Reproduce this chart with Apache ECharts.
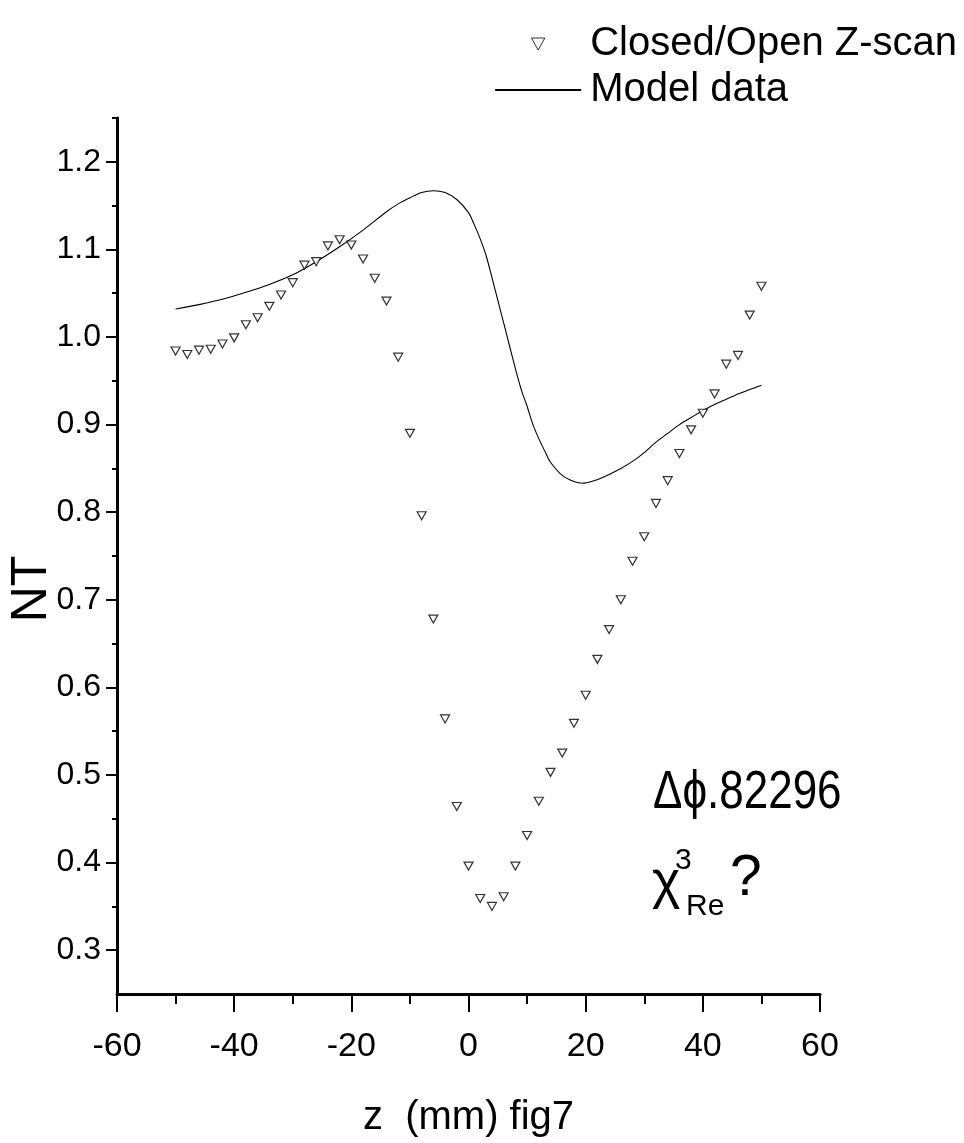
<!DOCTYPE html>
<html><head><meta charset="utf-8">
<script src="https://cdn.jsdelivr.net/npm/echarts@6/dist/echarts.min.js"></script>
<style>html,body{margin:0;padding:0;background:#fff}#c{width:964px;height:1143px}</style>
</head><body><div id="c"></div>
<script>
// Measured Z-scan points (z in mm, normalized transmittance)
const scanZ = [-50,-48,-46,-44,-42,-40,-38,-36,-34,-32,-30,-28,-26,-24,-22,-20,-18,-16,-14,-12,-10,-8,-6,-4,-2,0,2,4,6,8,10,12,14,16,18,20,22,24,26,28,30,32,34,36,38,40,42,44,46,48,50];
const scanNT = [0.984,0.980,0.985,0.986,0.992,0.999,1.014,1.022,1.035,1.048,1.062,1.082,1.086,1.104,1.111,1.105,1.089,1.067,1.041,0.977,0.890,0.796,0.678,0.564,0.464,0.396,0.359,0.350,0.361,0.396,0.431,0.470,0.503,0.525,0.559,0.591,0.632,0.666,0.700,0.744,0.772,0.810,0.836,0.867,0.894,0.913,0.935,0.969,0.979,1.025,1.058];
// Model curve
const modelZ = [-50,-46,-42,-38,-34,-30,-26,-22,-18,-14,-12,-10,-8,-6,-4,-2,0,1,2,3,4,5,6,7,8,9,10,11,12,13,14,16,18,19.5,21,23,26,28,30,32,34,36,38,40,42,44,46,48,50];
const modelNT = [1.032,1.037,1.043,1.051,1.060,1.071,1.086,1.103,1.122,1.143,1.152,1.159,1.165,1.167,1.165,1.157,1.142,1.128,1.112,1.093,1.068,1.042,1.016,0.990,0.964,0.940,0.921,0.900,0.884,0.870,0.857,0.842,0.835,0.833,0.835,0.840,0.850,0.858,0.868,0.880,0.890,0.900,0.908,0.916,0.923,0.929,0.935,0.940,0.945];
const yMajor = [0.3,0.4,0.5,0.6,0.7,0.8,0.9,1.0,1.1,1.2];
const yMinor = [0.35,0.45,0.55,0.65,0.75,0.85,0.95,1.05,1.15,1.25];
const seriesNames = ['Closed/Open Z-scan','Model data'];

const FONT = '"Liberation Sans", Arial, sans-serif';
const tri = 'path://M0,0 L10,0 L5,9 Z';

const chart = echarts.init(document.getElementById('c'), null, {renderer:'canvas'});
chart.setOption({
  backgroundColor:'#fff',
  animation:false,
  grid:{left:117,right:144,top:118,bottom:141,containLabel:false},
  legend:{
    orient:'vertical', right:2, top:19, itemGap:6, itemWidth:86, itemHeight:12,
    textStyle:{fontFamily:FONT,fontSize:40,color:'#000',padding:[0,0,0,4]},
    data:[{name:seriesNames[0],icon:tri,itemStyle:{color:'#fff',borderColor:'#000',borderWidth:1}},
          {name:seriesNames[1]}]
  },
  xAxis:{
    type:'value', min:-60, max:60, interval:20,
    name:'z  (mm) fig7', nameLocation:'middle', nameGap:104,
    nameTextStyle:{fontFamily:FONT,fontSize:40,color:'#000'},
    axisLine:{onZero:false,lineStyle:{color:'#000',width:3}},
    axisTick:{inside:false,length:18,lineStyle:{color:'#000',width:2}},
    minorTick:{show:true,splitNumber:2,length:10,lineStyle:{color:'#000',width:2}},
    axisLabel:{fontFamily:FONT,fontSize:34,color:'#000',margin:36},
    splitLine:{show:false}
  },
  yAxis:[{
    type:'value', min:0.25, max:1.25,
    axisLine:{onZero:false,lineStyle:{color:'#000',width:3}},
    axisTick:{length:11,customValues:yMajor,lineStyle:{color:'#000',width:2}},
    axisLabel:{fontFamily:FONT,fontSize:32,color:'#000',margin:16,customValues:yMajor,
      formatter:v=>v.toFixed(1)},
    splitLine:{show:false}
  },{
    type:'value', min:0.25, max:1.25, position:'left', offset:0,
    axisLine:{show:false,onZero:false},
    axisTick:{length:5,customValues:yMinor,lineStyle:{color:'#000',width:2}},
    axisLabel:{show:false},
    splitLine:{show:false}
  }],
  series:[{
    name:seriesNames[0], type:'scatter', yAxisIndex:0,
    symbol:tri, symbolSize:[9,8],
    itemStyle:{color:'#fff',borderColor:'#000',borderWidth:1.2},
    data:scanZ.map((z,i)=>[z,scanNT[i]]), z:3
  },{
    name:seriesNames[1], type:'line', yAxisIndex:0, smooth:0.3, showSymbol:false,
    symbol:'circle', symbolSize:1,
    lineStyle:{color:'#000',width:1.1}, itemStyle:{color:'rgba(0,0,0,0)',borderWidth:0},
    data:modelZ.map((z,i)=>[z,modelNT[i]]), z:2
  }],
  graphic:[
    {type:'text',x:32,y:589,rotation:Math.PI/2,style:{text:'NT',fontFamily:FONT,fontSize:50,fill:'#000',align:'center',verticalAlign:'middle'}},
    {type:'text',left:653,top:767,scaleX:0.83,style:{text:'Δϕ.82296',fontFamily:FONT,fontSize:53,fill:'#000'}},
    {type:'text',left:652,top:856,style:{text:'χ',fontFamily:FONT,fontSize:54,fill:'#000'}},
    {type:'text',left:675,top:846,style:{text:'3',fontFamily:FONT,fontSize:30,fill:'#000'}},
    {type:'text',left:686,top:892,style:{text:'Re',fontFamily:FONT,fontSize:30,fill:'#000'}},
    {type:'text',left:730,top:851,style:{text:'?',fontFamily:FONT,fontSize:57,fill:'#000'}}
  ]
});
</script></body></html>
